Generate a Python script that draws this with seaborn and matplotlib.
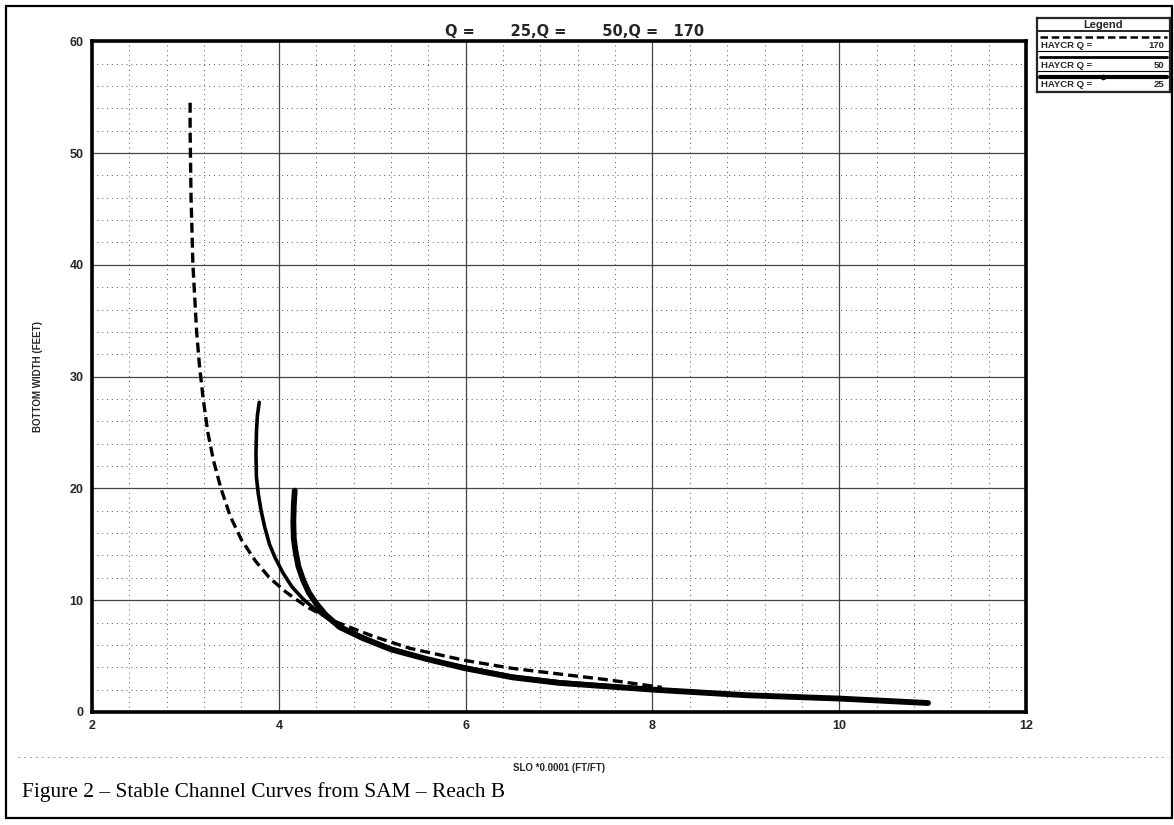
import numpy as np
import pandas as pd
import matplotlib
matplotlib.use("Agg")
import matplotlib.pyplot as plt
from matplotlib.patches import Rectangle
from matplotlib.lines import Line2D
import seaborn as sns

# curve data
q170_x = [3.05, 3.05, 3.055, 3.06, 3.07, 3.08, 3.10, 3.12, 3.15, 3.19, 3.24, 3.30, 3.38, 3.48, 3.60, 3.75, 3.90, 4.08,
          4.30, 4.60, 5.00, 5.40, 6.00, 6.50, 7.00, 7.50, 8.10]
q170_y = [54.5, 52.0, 49.0, 46.0, 43.0, 40.0, 37.0, 34.0, 31.0, 28.0, 25.0, 22.5, 20.0, 17.5, 15.4, 13.5, 12.0, 10.7,
          9.4, 8.1, 6.8, 5.7, 4.6, 3.9, 3.4, 2.9, 2.2]

q50_x = [3.79, 3.77, 3.76, 3.755, 3.76, 3.78, 3.81, 3.85, 3.90, 3.96, 4.04, 4.14, 4.26, 4.40, 4.60, 4.90, 5.20, 5.60,
         6.00, 6.50, 7.00, 8.00, 9.00, 10.00, 10.90]
q50_y = [27.7, 26.5, 25.0, 23.0, 21.0, 19.5, 18.0, 16.5, 15.0, 13.8, 12.5, 11.2, 10.1, 9.1, 7.9, 6.7, 5.7, 4.7,
         4.0, 3.2, 2.7, 2.05, 1.55, 1.2, 0.85]

q25_x = [4.17, 4.16, 4.155, 4.16, 4.18, 4.21, 4.26, 4.32, 4.40, 4.50, 4.65, 4.90, 5.20, 5.60, 6.00, 6.50, 7.00, 8.00,
         9.00, 10.00, 10.95]
q25_y = [19.8, 18.5, 17.0, 15.5, 14.3, 13.0, 11.8, 10.7, 9.7, 8.7, 7.6, 6.6, 5.6, 4.7, 3.9, 3.1, 2.6, 2.0,
         1.5, 1.2, 0.8]

series_labels = ["HAYCR Q =", "HAYCR Q =", "HAYCR Q ="]
series_q = ["170", "50", "25"]

sns.set_style("white")
plt.rcParams['font.family'] = ['Liberation Sans', 'DejaVu Sans']

fig = plt.figure(figsize=(11.74, 8.25), dpi=100)
ax = fig.add_axes([0.0784, 0.137, 0.7956, 0.813])

df170 = pd.DataFrame({"x": q170_x, "y": q170_y})
df50 = pd.DataFrame({"x": q50_x, "y": q50_y})
df25 = pd.DataFrame({"x": q25_x, "y": q25_y})

sns.lineplot(data=df170, x="x", y="y", ax=ax, sort=False, estimator=None,
             color="black", linewidth=2.4, linestyle=(0, (3, 1.5)), zorder=3)
sns.lineplot(data=df50, x="x", y="y", ax=ax, sort=False, estimator=None,
             color="black", linewidth=2.6, solid_capstyle="round", solid_joinstyle="round", zorder=4)
sns.lineplot(data=df25, x="x", y="y", ax=ax, sort=False, estimator=None,
             color="black", linewidth=4.2, solid_capstyle="round", solid_joinstyle="round", zorder=5)

ax.set_xlim(2, 12)
ax.set_ylim(0, 60)
ax.set_xticks([2, 4, 6, 8, 10, 12])
ax.set_yticks([0, 10, 20, 30, 40, 50, 60])
ax.set_xticks(np.arange(2, 12, 0.4), minor=True)
ax.set_yticks(np.arange(0, 60, 2), minor=True)
ax.grid(which="major", color="#444444", linewidth=0.9, linestyle="-")
ax.grid(which="minor", color="#555555", linewidth=0.7, linestyle=(0, (1, 4)))
ax.set_axisbelow(True)
for s in ax.spines.values():
    s.set_linewidth(2.6)
    s.set_color("black")
ax.tick_params(axis="both", which="major", labelsize=9, length=3, width=1.5, pad=3)
ax.tick_params(axis="both", which="minor", length=0)
for lab in ax.get_xticklabels() + ax.get_yticklabels():
    lab.set_fontweight("bold")

ax.set_xlabel("SLO *0.0001 (FT/FT)", fontsize=7, fontweight="bold", labelpad=22)
ax.set_ylabel("BOTTOM WIDTH (FEET)", fontsize=7, fontweight="bold", labelpad=19)
ax.set_title("Q =       25,Q =       50,Q =   170", fontsize=10.5, fontweight="bold", pad=4,
             x=0.517, family=["DejaVu Sans"])

# legend box drawn to the right of the plot
lax = fig.add_axes([0.8833, 0.889, 0.1132, 0.089])
lax.set_xlim(0, 1)
lax.set_ylim(0, 1)
lax.set_xticks([])
lax.set_yticks([])
for s in lax.spines.values():
    s.set_linewidth(1.6)
lax.axhline(0.82, color="black", linewidth=1.2)
lax.text(0.5, 0.91, "Legend", ha="center", va="center", fontsize=8, fontweight="bold")
styles = [dict(linewidth=1.8, linestyle=(0, (3, 1.5))),
          dict(linewidth=2.0, linestyle="-"),
          dict(linewidth=3.0, linestyle="-", marker="o", markersize=3, markevery=[1])]
rows = [0.82, 0.55, 0.28]
for top, name, q, st in zip(rows, series_labels, series_q, styles):
    lax.add_line(Line2D([0.02, 0.5, 0.98], [top - 0.08] * 3, color="black", **st))
    lax.text(0.03, top - 0.19, name, ha="left", va="center", fontsize=6.8, fontweight="bold")
    lax.text(0.96, top - 0.19, q, ha="right", va="center", fontsize=6.8, fontweight="bold")
    lax.axhline(top - 0.27, color="black", linewidth=0.8)

# outer frame, separator and caption
fig.add_artist(Rectangle((0.005, 0.008), 0.993, 0.985, transform=fig.transFigure,
                         fill=False, edgecolor="black", linewidth=1.6))
fig.add_artist(Line2D([0.015, 0.995], [0.083, 0.083], transform=fig.transFigure,
                      color="#999999", linewidth=0.7, linestyle=(0, (2, 4))))
fig.text(0.019, 0.034, "Figure 2 \u2013 Stable Channel Curves from SAM \u2013 Reach B",
         fontsize=15.4, color="black", family=["Liberation Serif", "DejaVu Serif"])

fig.savefig("out.png", dpi=100)
